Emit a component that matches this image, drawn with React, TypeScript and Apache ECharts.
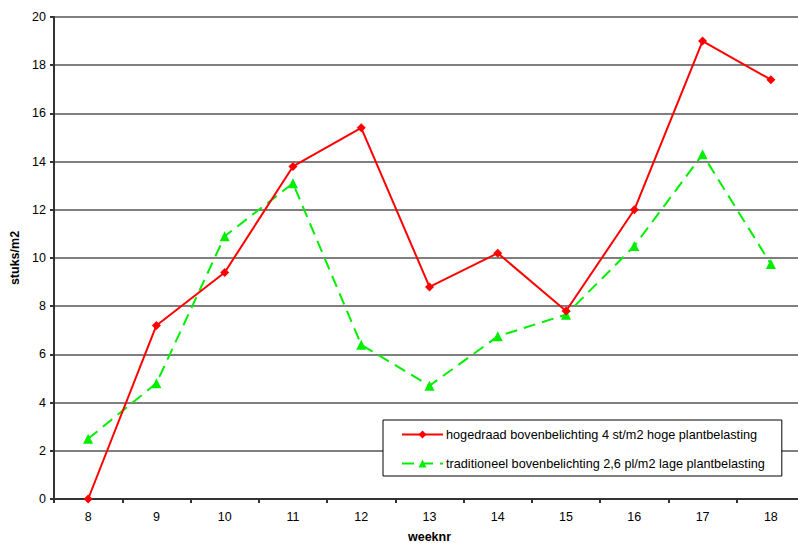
import React, { useEffect, useRef } from "react";
import * as echarts from "echarts";

const weeks = ["8", "9", "10", "11", "12", "13", "14", "15", "16", "17", "18"];
const hogedraad = [0, 7.2, 9.4, 13.8, 15.4, 8.8, 10.2, 7.8, 12.0, 19.0, 17.4];
const traditioneel = [2.5, 4.8, 10.9, 13.1, 6.4, 4.7, 6.75, 7.65, 10.5, 14.3, 9.75];
const seriesNames = [
  "hogedraad bovenbelichting 4 st/m2 hoge plantbelasting",
  "traditioneel bovenbelichting 2,6 pl/m2 lage plantbelasting",
];

const FONT = "Liberation Sans, Arial, sans-serif";

export default function App() {
  const ref = useRef<HTMLDivElement>(null);

  useEffect(() => {
    if (!ref.current) return;
    const chart = echarts.init(ref.current, null, { renderer: "svg" });
    chart.setOption({
      animation: false,
      backgroundColor: "#ffffff",
      textStyle: { fontFamily: FONT },
      grid: {
        left: 54,
        top: 17,
        width: 751,
        height: 482,
        containLabel: false,
        outerBoundsMode: "none",
      },
      xAxis: {
        type: "category",
        data: weeks,
        boundaryGap: true,
        name: "weeknr",
        nameLocation: "middle",
        nameGap: 31,
        nameTextStyle: { fontFamily: FONT, fontSize: 12.5, fontWeight: "bold", color: "#000" },
        axisLine: { lineStyle: { color: "#333", width: 2 } },
        axisTick: { show: true, length: 4, lineStyle: { color: "#333", width: 2 } },
        axisLabel: { fontFamily: FONT, fontSize: 12.5, color: "#000", margin: 11 },
        splitLine: { show: false },
      },
      yAxis: {
        type: "value",
        min: 0,
        max: 20,
        interval: 2,
        name: "stuks/m2",
        nameLocation: "middle",
        nameGap: 29,
        nameTextStyle: { fontFamily: FONT, fontSize: 12.5, fontWeight: "bold", color: "#000" },
        axisLine: { show: true, lineStyle: { color: "#333", width: 2 } },
        axisTick: { show: true, length: 4, lineStyle: { color: "#333", width: 2 } },
        axisLabel: { fontFamily: FONT, fontSize: 12.5, color: "#000", margin: 8 },
        splitLine: { show: true, lineStyle: { color: "#555", width: 1.5 } },
      },
      legend: {
        orient: "vertical",
        left: 383,
        top: 420,
        padding: [8, 17, 6, 18],
        borderColor: "#000",
        borderWidth: 1,
        backgroundColor: "#fff",
        itemWidth: 41,
        itemHeight: 10,
        itemGap: 16,
        textStyle: { fontFamily: FONT, fontSize: 12.7, color: "#000", padding: [0, 0, 0, -2] },
        data: seriesNames,
      },
      series: [
        {
          name: seriesNames[0],
          type: "line",
          data: hogedraad,
          symbol: "diamond",
          symbolSize: 9,
          color: "#ff0000",
          itemStyle: { color: "#ff0000" },
          lineStyle: { color: "#ff0000", width: 2 },
          z: 3,
        },
        {
          name: seriesNames[1],
          type: "line",
          data: traditioneel,
          symbol: "triangle",
          symbolSize: 10,
          color: "#00ee00",
          itemStyle: { color: "#00ee00" },
          lineStyle: { color: "#00ee00", width: 2, type: [12, 7] },
          z: 2,
        },
      ],
    });
    return () => chart.dispose();
  }, []);

  return (
    <div
      ref={ref}
      style={{ position: "absolute", left: 0, top: 0, width: 798, height: 543, overflow: "hidden" }}
    />
  );
}
